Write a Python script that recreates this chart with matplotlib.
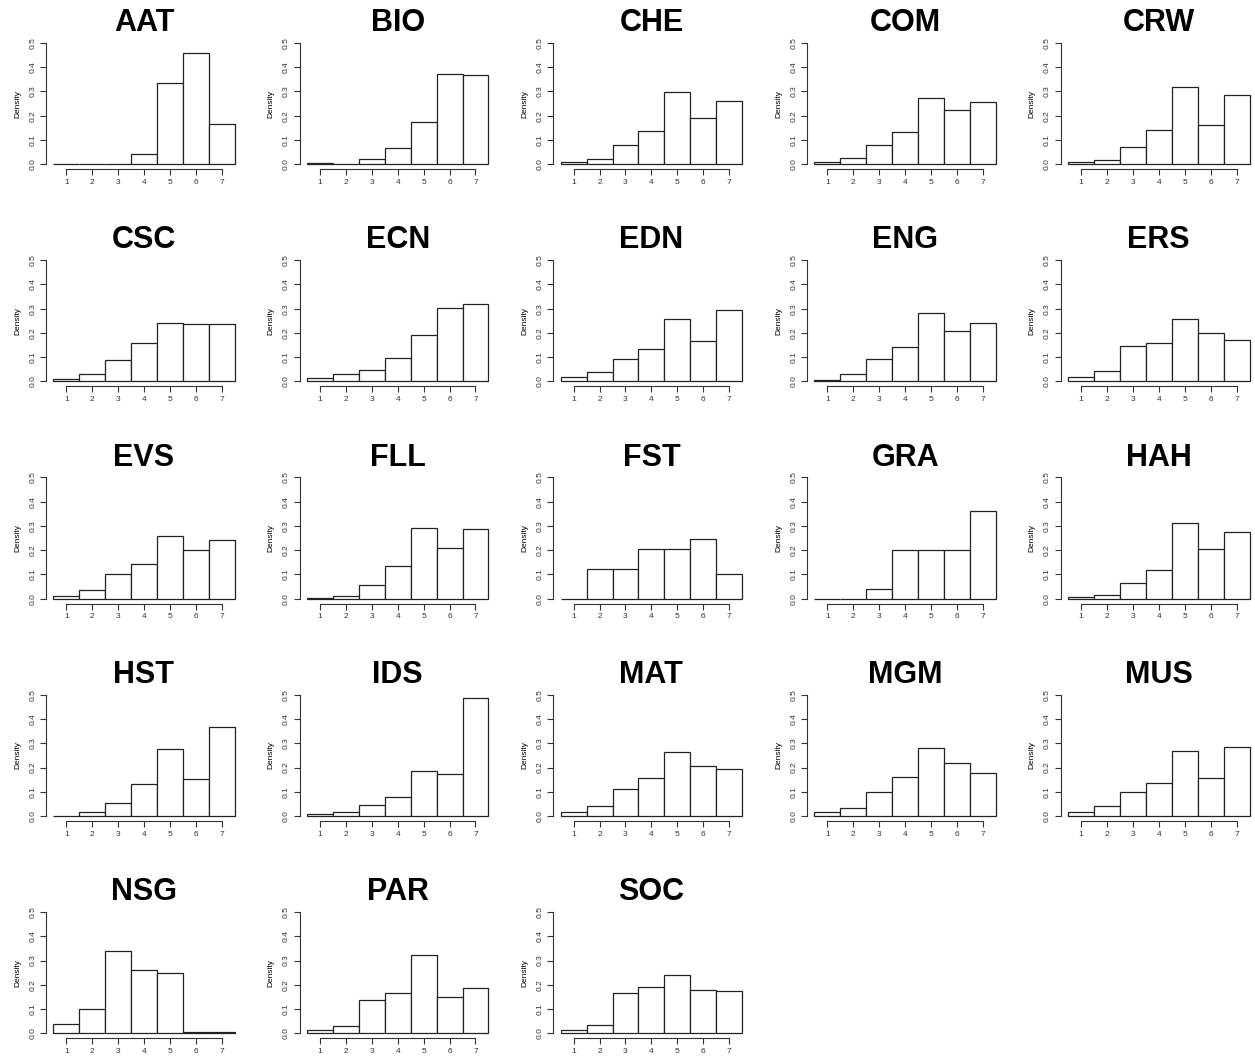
import numpy as np
import matplotlib
matplotlib.use("Agg")
import matplotlib.pyplot as plt

plt.rcParams['font.family'] = ['Liberation Sans', 'DejaVu Sans']

# response levels (1..7) and density per level for each subject
levels = [1, 2, 3, 4, 5, 6, 7]

aat = [0.0, 0.0, 0.0, 0.042, 0.333, 0.458, 0.167]
bio = [0.003, 0.001, 0.02, 0.065, 0.172, 0.372, 0.368]
che = [0.01, 0.02, 0.08, 0.136, 0.298, 0.192, 0.262]
com = [0.01, 0.025, 0.08, 0.131, 0.273, 0.222, 0.257]
crw = [0.007, 0.017, 0.069, 0.142, 0.32, 0.16, 0.287]
csc = [0.01, 0.03, 0.087, 0.157, 0.242, 0.238, 0.237]
ecn = [0.015, 0.03, 0.048, 0.095, 0.192, 0.302, 0.318]
edn = [0.02, 0.037, 0.093, 0.135, 0.258, 0.165, 0.295]
eng = [0.007, 0.03, 0.093, 0.14, 0.283, 0.207, 0.24]
ers = [0.02, 0.043, 0.145, 0.16, 0.256, 0.2, 0.172]
evs = [0.01, 0.038, 0.1, 0.145, 0.258, 0.2, 0.243]
fll = [0.005, 0.013, 0.055, 0.135, 0.292, 0.21, 0.288]
fst = [0.0, 0.122, 0.122, 0.204, 0.204, 0.245, 0.102]
gra = [0.0, 0.0, 0.04, 0.2, 0.2, 0.2, 0.36]
hah = [0.007, 0.015, 0.063, 0.118, 0.312, 0.207, 0.277]
hst = [0.002, 0.018, 0.054, 0.134, 0.277, 0.152, 0.366]
ids = [0.01, 0.018, 0.046, 0.08, 0.184, 0.175, 0.488]
mat = [0.015, 0.043, 0.11, 0.158, 0.265, 0.207, 0.195]
mgm = [0.015, 0.035, 0.1, 0.163, 0.282, 0.218, 0.178]
mus = [0.015, 0.043, 0.1, 0.135, 0.267, 0.157, 0.283]
nsg = [0.037, 0.102, 0.338, 0.262, 0.248, 0.006, 0.004]
par = [0.013, 0.03, 0.137, 0.168, 0.322, 0.148, 0.185]
soc = [0.015, 0.035, 0.165, 0.19, 0.242, 0.178, 0.173]

subjects = ["AAT", "BIO", "CHE", "COM", "CRW",
            "CSC", "ECN", "EDN", "ENG", "ERS",
            "EVS", "FLL", "FST", "GRA", "HAH",
            "HST", "IDS", "MAT", "MGM", "MUS",
            "NSG", "PAR", "SOC"]
densities = [aat, bio, che, com, crw, csc, ecn, edn, eng, ers, evs, fll,
             fst, gra, hah, hst, ids, mat, mgm, mus, nsg, par, soc]

W, H = 1255, 1059
fig = plt.figure(figsize=(W / 100, H / 100), dpi=100)

# plot regions in pixels (R-like layout, 5 x 5 grid)
pw, ph = 196, 131
col_left = 46
col_step = 253.7
row_top = 38
row_step = 217.3

for k, (name, dens) in enumerate(zip(subjects, densities)):
    r, c = divmod(k, 5)
    left = col_left + c * col_step
    top = row_top + r * row_step
    ax = fig.add_axes([left / W, 1 - (top + ph) / H, pw / W, ph / H])

    ax.bar(levels, dens, width=1.0, color='white', edgecolor='#222222',
           linewidth=0.9)

    # R hist style axes: 4% padding, detached axis lines
    ax.set_xlim(0.22, 7.78)
    ax.set_ylim(-0.02, 0.52)
    for s in ['top', 'right']:
        ax.spines[s].set_visible(False)
    ax.spines['bottom'].set_bounds(1, 7)
    ax.spines['left'].set_bounds(0, 0.5)
    for s in ['bottom', 'left']:
        ax.spines[s].set_linewidth(0.8)
        ax.spines[s].set_color('#333333')

    ax.set_xticks(levels)
    ax.set_xticklabels([str(v) for v in levels], fontsize=6)
    yt = [0.0, 0.1, 0.2, 0.3, 0.4, 0.5]
    ax.set_yticks(yt)
    ax.set_yticklabels(["%.1f" % v for v in yt], fontsize=6,
                       rotation=90, va='center')
    ax.tick_params(length=4, width=0.8, pad=3, colors='#333333')
    ax.set_ylabel("Density", fontsize=6, labelpad=6)
    ax.set_title(name, fontsize=22, fontweight='bold', pad=5)

fig.savefig("out.png", dpi=100)
